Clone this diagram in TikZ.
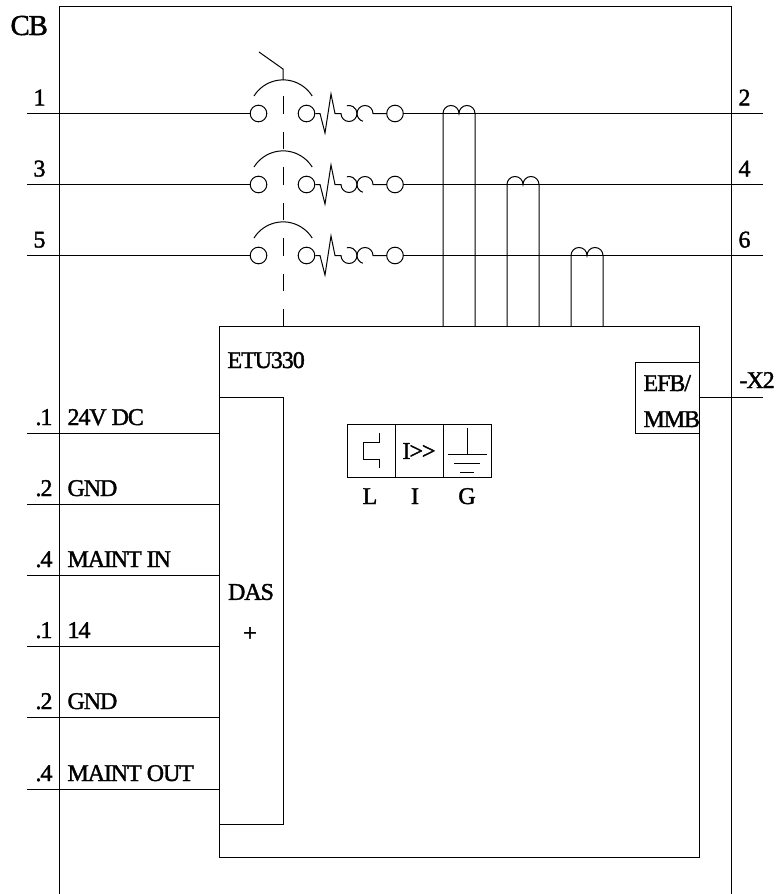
\documentclass[tikz,border=0pt]{standalone}
\usepackage{fontspec}
\setmainfont[LetterSpace=-4.5,FakeBold=1.6,Ligatures=NoCommon]{Liberation Serif}
\usepackage{tikz}
\usetikzlibrary{calc}
\tikzset{
  wire/.style={line width=1pt},
  txt/.style={font=\fontsize{24}{24}\selectfont, inner sep=0pt},
  lbl/.style={txt, anchor=base west},
  contact/.style={draw, wire, circle, inner sep=0pt, minimum size=16.6pt},
  frame/.style={draw, wire, inner sep=0pt, outer sep=0pt},
  cell/.style={frame, minimum width=48pt, minimum height=53pt}
}

\begin{document}
\begin{tikzpicture}[x=1pt, y=-1pt, wire]
\useasboundingbox (0,0) rectangle (778,894);

% breaker frame
\coordinate (cbbl) at (59,894);
\coordinate (cbtl) at (59,6.5);
\coordinate (cbtr) at (731,6.5);
\coordinate (cbbr) at (731,894);
\draw (cbbl) -- (cbtl) -- (cbtr) -- (cbbr);
\node[txt, anchor=base west] (cb) at (10,35) {\fontsize{29}{29}\selectfont CB};

% trip unit
\node[frame, anchor=north west, minimum width=480pt, minimum height=531pt] (etu) at (219,326.5) {};
\node[lbl] (etuname) at (227,368) {ETU330};
\node[frame, anchor=north west, minimum width=64pt, minimum height=427pt] (das) at (219,397.5) {};
\node[txt] (dasname) at (251,592) {DAS};
\node[txt] (dasplus) at (250,634) {+};
\node[frame, anchor=north east, minimum width=64pt, minimum height=71pt] (efb) at (699,362) {};
\node[lbl] (efbname) at (643,391) {EFB/};
\node[lbl] (mmbname) at (643,427) {MMB};
\coordinate (x2) at (763,397.5);
\draw (x2 -| efb.east) -- (x2);
\node[lbl] (x2name) at (739,388) {-X2};

% poles
\foreach \p/\y/\a/\b/\lx in {1/113.5/1/2/443, 2/184.5/3/4/507, 3/255.5/5/6/571}{
  \coordinate (in\p) at (27,\y);
  \coordinate (out\p) at (763,\y);
  \node[contact] (fix\p) at (258.5,\y) {};
  \node[contact] (mov\p) at (306.5,\y) {};
  \node[contact] (end\p) at (395,\y) {};
  \coordinate (coil\p) at (373,\y);
  \coordinate (bridge\p) at (254,\y-17.5);
  \draw (in\p) -- (fix\p);
  \draw (end\p) -- (out\p);
  \draw (bridge\p) arc[start angle=-148, end angle=-32, radius=34.3];
  \draw (mov\p.east) -- ++(4.7,0) -- ++(5,19.5) -- ++(6,-39) -- ++(4,19.5) -- ++(6,0)
    arc[start angle=-180, end angle=-465, radius=8];
  \draw (end\p) -- (coil\p) arc[start angle=0, end angle=-255, radius=8];
  \node[lbl] (lin\p) at (33,\y-8) {\a};
  \node[lbl] (lout\p) at (738,\y-8) {\b};
  % current sensor
  \coordinate (ctl\p) at (\lx,\y);
  \coordinate (ctm\p) at (\lx+16,\y);
  \coordinate (ctr\p) at (\lx+32,\y);
  \draw (ctl\p |- etu.north) -- (ctl\p) arc[start angle=-180, end angle=0, radius=8]
    arc[start angle=-180, end angle=0, radius=8] -- (ctr\p |- etu.north);
}

% operating mechanism
\coordinate (lever) at (259,52);
\coordinate (hinge) at (283,69);
\coordinate (linktop) at (283,80);
\coordinate (linkend) at (283,96);
\draw (lever) -- (hinge) -- (linktop);
\draw[dash pattern=on 17.5pt off 18pt] (linkend -| das.east) ++(0,230.5) -- (linkend);

% protection functions
\node[cell] (lcell) at (371,450.5) {};
\node[cell] (icell) at (419,450.5) {};
\node[cell] (gcell) at (467,450.5) {};
\draw (379,433) -- (379,442) -- (363,442) -- (363,459) -- (379,459) -- (379,468);
\node[txt] (ovr) at (419,451) {I{>}{>}};
\draw (467,428) -- (467,454);
\draw (447.5,454) -- (487,454);
\draw (454,463) -- (480,463);
\draw (460,472) -- (474,472);
\node[txt, anchor=base] (lname) at (370,504) {L};
\node[txt, anchor=base] (iname) at (415,504) {I};
\node[txt, anchor=base] (gname) at (467,504) {G};

% signal terminals
\foreach \i/\y/\t/\s in {1/433/.1/24V DC, 2/504/.2/GND, 3/575/.4/MAINT IN, 4/646/.1/14, 5/717/.2/GND, 6/789/.4/MAINT OUT}{
  \coordinate (sig\i) at (27,\y);
  \draw (sig\i) -- (sig\i -| das.west);
  \node[lbl] (pin\i) at (35,\y-8) {\t};
  \node[lbl] (sname\i) at (67,\y-8) {\s};
}
\end{tikzpicture}
\end{document}
